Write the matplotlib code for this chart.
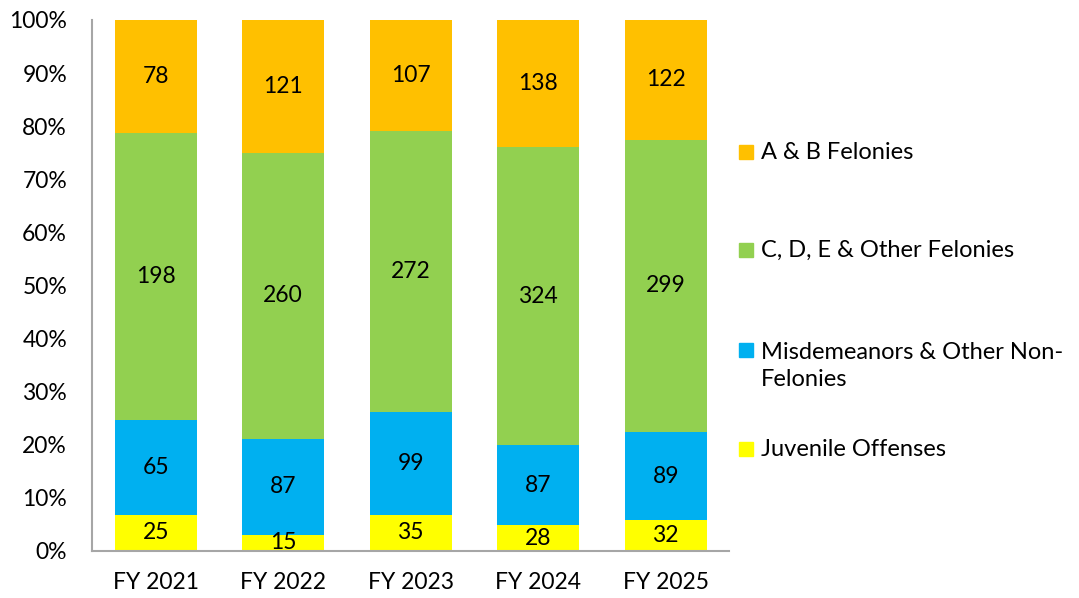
#!/usr/bin/env python3
import matplotlib
matplotlib.use("Agg")
import matplotlib.pyplot as plt
from matplotlib.patches import Rectangle
from matplotlib.ticker import PercentFormatter
import numpy as np

years = ["FY 2021", "FY 2022", "FY 2023", "FY 2024", "FY 2025"]
juvenile = [25, 15, 35, 28, 32]
misdemeanors = [65, 87, 99, 87, 89]
cde_felonies = [198, 260, 272, 324, 299]
ab_felonies = [78, 121, 107, 138, 122]

series_names = ["Juvenile Offenses", "Misdemeanors & Other Non-\nFelonies",
                "C, D, E & Other Felonies", "A & B Felonies"]
colors = ["#FFFF00", "#00B0F0", "#92D050", "#FFC000"]

plt.rcParams["font.family"] = ["Lato", "DejaVu Sans"]

counts = np.array([juvenile, misdemeanors, cde_felonies, ab_felonies], dtype=float)
shares = counts / counts.sum(axis=0) * 100

fig = plt.figure(figsize=(10.79, 5.98), dpi=100)
ax = fig.add_axes([0.0853, 0.0786, 0.5907, 0.888])

x = np.arange(len(years))
bottom = np.zeros(len(years))
for i in range(len(counts)):
    ax.bar(x, shares[i], 0.645, bottom=bottom, color=colors[i], linewidth=0)
    for j in range(len(years)):
        ax.text(x[j], bottom[j] + shares[i][j] / 2, "%d" % counts[i][j],
                ha="center", va="center", fontsize=16.5, color="black")
    bottom += shares[i]

ax.set_xlim(-0.5, len(years) - 0.5)
ax.set_ylim(0, 100)
ax.set_yticks(np.arange(0, 101, 10))
ax.yaxis.set_major_formatter(PercentFormatter(decimals=0))
ax.set_xticks(x)
ax.set_xticklabels(years)
ax.tick_params(axis="both", length=0, labelsize=16.5, colors="black")
ax.tick_params(axis="y", pad=18)
ax.tick_params(axis="x", pad=15)
for side in ["top", "right"]:
    ax.spines[side].set_visible(False)
for side in ["left", "bottom"]:
    ax.spines[side].set_color("#A6A6A6")
    ax.spines[side].set_linewidth(1.5)

# legend, placed by hand like the original
legend_y = [152, 250, 366, 449]
for k in [3, 2, 1, 0]:
    yc = 1 - legend_y[3 - k] / 598
    if k == 1:
        square_y = 1 - 350 / 598
    else:
        square_y = yc
    fig.patches.append(Rectangle((739 / 1079, square_y - 7 / 598), 14 / 1079, 14 / 598,
                                 transform=fig.transFigure, color=colors[k]))
    fig.text(761 / 1079, yc, series_names[k], fontsize=17, va="center", ha="left",
             linespacing=1.3)

fig.savefig("out.png", dpi=100)
